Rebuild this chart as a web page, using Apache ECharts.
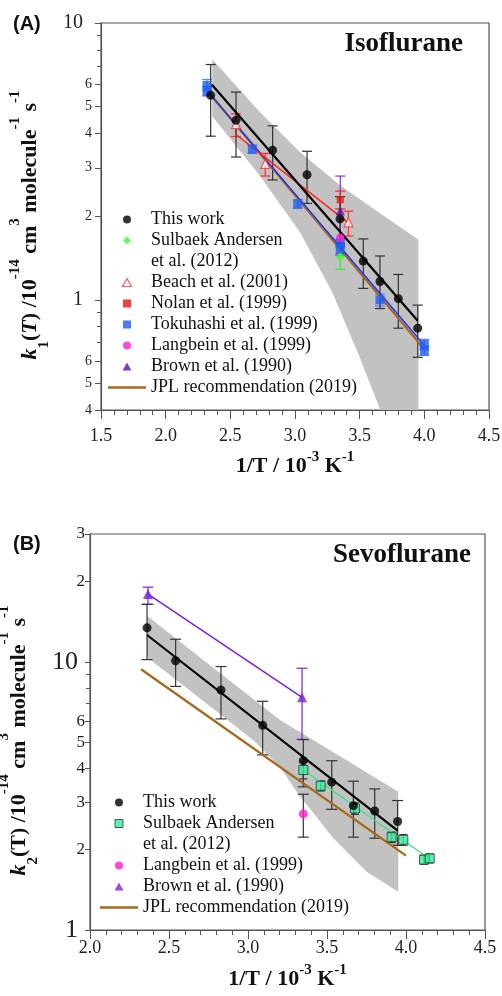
<!DOCTYPE html>
<html>
<head>
<meta charset="utf-8">
<script src="https://cdn.jsdelivr.net/npm/echarts@6/dist/echarts.min.js"></script>
<style>
html, body { margin: 0; padding: 0; background: #fff; }
#chart { width: 502px; height: 996px; }
</style>
</head>
<body>
<div id="chart"></div>
<script>
// ---------- panel A : isoflurane ----------
const isoThisX = [2.348, 2.544, 2.827, 3.093, 3.348, 3.528, 3.657, 3.799, 3.949];
const isoThisY = [5.48, 4.45, 3.47, 2.83, 1.96, 1.38, 1.165, 1.01, 0.79];
const isoThisLo = [3.90, 3.28, 2.71, 2.23, 1.60, 1.10, 0.93, 0.79, 0.62];
const isoThisHi = [7.08, 5.63, 4.25, 3.44, 2.36, 1.66, 1.44, 1.235, 0.957];
const isoThisFitX = [2.356, 3.949];
const isoThisFitY = [6.0, 0.84];

const isoSulbX = [3.35];
const isoSulbY = [1.43];
const isoSulbLo = [1.29];
const isoSulbHi = [1.56];

const isoBeachX = [2.544, 2.770, 3.413];
const isoBeachY = [4.31, 3.10, 1.905];
const isoBeachLo = [3.89, 2.80, 1.70];
const isoBeachHi = [4.70, 3.38, 2.09];
const isoBeachFitX = [2.536, 3.41];
const isoBeachFitY = [3.98, 1.90];

const isoNolanX = [3.35];
const isoNolanY = [2.30];
const isoNolanLo = [2.13];
const isoNolanHi = [2.47];

const isoTokuX = [2.32, 2.32, 2.670, 3.021, 3.35, 3.35, 3.657, 4.0, 4.0];
const isoTokuY = [5.95, 5.66, 3.50, 2.22, 1.60, 1.52, 1.0, 0.69, 0.655];
const isoTokuLo = [5.70, 5.45, 3.38, 2.14, 1.55, 1.47, 0.95, 0.66, 0.63];
const isoTokuHi = [6.25, 5.90, 3.62, 2.30, 1.66, 1.58, 1.05, 0.72, 0.68];
const isoTokuFitX = [2.325, 4.006];
const isoTokuFitY = [5.65, 0.68];

const isoLangX = [3.35];
const isoLangY = [1.68];

const isoBrownX = [3.35];
const isoBrownY = [2.10];
const isoBrownLo = [1.45];
const isoBrownHi = [2.80];

const isoJplX = [2.322, 3.992];
const isoJplY = [5.69, 0.67];

// confidence band outline: upper edge left->right, then lower edge right->left
const isoBandX = [2.36, 2.73, 3.04, 3.35, 3.66, 3.955, 3.955, 3.66, 3.50, 3.29, 3.04, 2.73, 2.36];
const isoBandY = [7.39, 4.76, 3.41, 2.59, 2.05, 1.65, 0.4, 0.4, 0.62, 1.06, 1.75, 2.8, 4.6];

const isoTickVals = [0.4, 0.5, 0.6, 1, 2, 3, 4, 5, 6, 10];
const isoTickText = ['4', '5', '6', '1', '2', '3', '4', '5', '6', '10'];
const isoMinorVals = [0.7, 0.8, 0.9, 7, 8, 9];

// ---------- panel B : sevoflurane ----------
const sevThisX = [2.361, 2.542, 2.829, 3.093, 3.350, 3.530, 3.667, 3.802, 3.947];
const sevThisY = [13.4, 10.1, 7.86, 5.80, 4.28, 3.56, 2.91, 2.78, 2.54];
const sevThisLo = [10.2, 8.1, 6.13, 4.50, 3.42, 2.82, 2.22, 2.20, 2.07];
const sevThisHi = [16.4, 12.15, 9.61, 7.13, 5.13, 4.28, 3.59, 3.36, 3.04];
const sevThisFitX = [2.361, 3.947];
const sevThisFitY = [12.6, 2.35];

const sevSulbX = [3.350, 3.460, 3.677, 3.909, 3.983, 4.114, 4.150];
const sevSulbY = [3.95, 3.45, 2.84, 2.22, 2.17, 1.83, 1.85];
const sevSulbLo = [3.66, 3.30, 2.70, 2.12, 2.07, 1.76, 1.78];
const sevSulbHi = [4.25, 3.60, 2.98, 2.32, 2.27, 1.90, 1.92];
const sevSulbFitX = [3.35, 4.15];
const sevSulbFitY = [3.95, 1.84];

const sevLangX = [3.35];
const sevLangY = [2.71];
const sevLangLo = [2.22];
const sevLangHi = [3.21];

const sevBrownX = [2.367, 3.342];
const sevBrownY = [17.9, 7.38];
const sevBrownLo = [16.4, 5.14];
const sevBrownHi = [19.0, 9.47];

const sevJplX = [2.323, 4.0];
const sevJplY = [9.39, 1.894];

const sevBandX = [2.361, 2.778, 3.203, 3.58, 3.951, 3.951, 3.751, 3.54, 3.41, 3.329, 3.203, 3.034, 2.778, 2.361];
const sevBandY = [14.85, 9.54, 6.07, 4.46, 3.28, 1.39, 1.65, 2.2, 2.75, 3.15, 4.05, 5.1, 6.7, 10.4];

const sevTickVals = [1, 2, 3, 4, 5, 6, 10, 20, 30];
const sevTickText = ['1', '2', '3', '4', '5', '6', '10', '2', '3'];
const sevMinorVals = [7, 8, 9];

const serif = '"Liberation Serif", "Times New Roman", serif';
const axisColor = '#555';
const errColor = '#333';

// legend icon shapes (kept square by symbolKeepAspect)
const iconSquare = 'path://M0,0H10V10H0Z';
const iconTriangle = 'path://M5,0L10,9L0,9Z';
const iconDiamond = 'path://M5,0L10,5L5,10L0,5Z';
const iconLine = 'path://M0,0H40V2.5H0Z';

function pairs(xs, ys) {
    return xs.map((x, i) => [x, ys[i]]);
}

// error bars drawn through the axes with api.coord
function errorBars(name, xs, lo, hi, color, g, cap) {
    return {
        name: name,
        type: 'custom',
        xAxisIndex: g,
        yAxisIndex: g * 2,
        data: xs.map((x, i) => [x, lo[i], hi[i]]),
        encode: { x: 0, y: [1, 2] },
        silent: true,
        z: 3,
        renderItem: (params, api) => {
            const a = api.coord([api.value(0), api.value(2)]);
            const b = api.coord([api.value(0), api.value(1)]);
            const st = { stroke: color, lineWidth: 1.2 };
            return {
                type: 'group',
                children: [
                    { type: 'line', shape: { x1: a[0], y1: a[1], x2: b[0], y2: b[1] }, style: st },
                    { type: 'line', shape: { x1: a[0] - cap, y1: a[1], x2: a[0] + cap, y2: a[1] }, style: st },
                    { type: 'line', shape: { x1: b[0] - cap, y1: b[1], x2: b[0] + cap, y2: b[1] }, style: st }
                ]
            };
        }
    };
}

function points(name, xs, ys, g, symbol, size, itemStyle, z) {
    return {
        name: name,
        type: 'scatter',
        xAxisIndex: g,
        yAxisIndex: g * 2,
        symbol: symbol,
        symbolSize: size,
        itemStyle: itemStyle,
        data: pairs(xs, ys),
        z: z || 5
    };
}

function fitLine(name, xs, ys, g, color, width, z) {
    return {
        name: name,
        type: 'line',
        xAxisIndex: g,
        yAxisIndex: g * 2,
        data: pairs(xs, ys),
        symbol: 'none',
        lineStyle: { color: color, width: width },
        itemStyle: { color: color },
        silent: true,
        z: z || 4
    };
}

function band(name, xs, ys, g) {
    return {
        name: name,
        type: 'custom',
        xAxisIndex: g,
        yAxisIndex: g * 2,
        data: pairs(xs, ys),
        encode: { x: 0, y: 1 },
        silent: true,
        z: 1,
        renderItem: (params, api) => {
            if (params.dataIndex !== 0) return null;
            const pts = xs.map((x, i) => api.coord([x, ys[i]]));
            return { type: 'polygon', shape: { points: pts }, style: { fill: '#c2c2c2' } };
        }
    };
}

function tickFormatter(vals, texts) {
    return function (v) {
        let k = 0;
        vals.forEach((t, i) => {
            if (Math.abs(Math.log10(t / v)) < Math.abs(Math.log10(vals[k] / v))) k = i;
        });
        const decade = Math.abs(Math.log10(vals[k]) % 1) < 1e-6;
        return '{' + (decade ? 'big' : 'sm') + '|' + texts[k] + '}';
    };
}

const supStyle = { fontFamily: serif, fontWeight: 'bold', fontSize: 15, lineHeight: 16, verticalAlign: 'top', color: '#111' };

function yName(sub, italicT) {
    const t = italicT ? '{i|T}' : '{b|T}';
    return '{i|k}{sub|' + sub + '}{b|(}' + t + '{b|) /10}{sup|-14}{b| cm}{sup|3}{b| molecule}{sup|-1}{b| s}{sup|-1}';
}
const yNameRich = {
    b: { fontFamily: serif, fontWeight: 'bold', fontSize: 22, lineHeight: 44, color: '#111' },
    i: { fontFamily: serif, fontWeight: 'bold', fontStyle: 'italic', fontSize: 22, lineHeight: 44, color: '#111' },
    sub: { fontFamily: serif, fontWeight: 'bold', fontSize: 15, lineHeight: 24, verticalAlign: 'bottom', color: '#111' },
    sup: supStyle
};
const xNameRich = {
    b: { fontFamily: serif, fontWeight: 'bold', fontSize: 22, lineHeight: 32, color: '#111' },
    sup: supStyle
};

function xAxis(g, min, labelMargin, nameGap) {
    return {
        type: 'value',
        gridIndex: g,
        min: min,
        max: 4.5,
        interval: 0.5,
        name: '{b|1/T / 10}{sup|-3}{b| K}{sup|-1}',
        nameLocation: 'middle',
        nameGap: nameGap,
        nameTextStyle: { rich: xNameRich },
        axisLine: { lineStyle: { color: axisColor, width: 1.2 } },
        axisTick: { length: 9, lineStyle: { color: axisColor } },
        minorTick: { show: true, splitNumber: 5, length: 5, lineStyle: { color: axisColor } },
        axisLabel: {
            margin: labelMargin,
            fontFamily: serif,
            fontSize: 18,
            color: '#222',
            formatter: v => v.toFixed(1)
        },
        splitLine: { show: false },
        minorSplitLine: { show: false }
    };
}

function yAxis(g, min, max, vals, texts, sub, italicT, opt) {
    return {
        type: 'log',
        logBase: 10,
        gridIndex: g,
        position: 'left',
        min: min,
        max: max,
        name: yName(sub, italicT),
        nameLocation: 'middle',
        nameRotate: 90,
        nameGap: opt.nameGap,
        nameTextStyle: { rich: yNameRich, padding: [0, 17, 0, 0] },
        axisLine: { show: true, lineStyle: { color: axisColor, width: 1.2 } },
        axisTick: { show: true, length: opt.tick, customValues: vals, lineStyle: { color: axisColor } },
        axisLabel: {
            customValues: vals,
            margin: opt.margin,
            formatter: tickFormatter(vals, texts),
            rich: {
                big: { fontFamily: serif, fontSize: opt.big, color: '#222', padding: [0, opt.bigPad, 0, 0] },
                sm: { fontFamily: serif, fontSize: opt.sm, color: '#222' }
            }
        },
        splitLine: { show: false }
    };
}

function minorAxis(g, min, max, vals) {
    return {
        type: 'log',
        logBase: 10,
        gridIndex: g,
        position: 'left',
        min: min,
        max: max,
        axisLine: { show: false },
        axisTick: { show: true, length: 4, customValues: vals, lineStyle: { color: axisColor } },
        axisLabel: { show: false },
        splitLine: { show: false }
    };
}

const legendText = { fontFamily: serif, fontSize: 18, color: '#111', lineHeight: 21 };

const blackDot = { color: '#000' };

const series = [
    // panel A
    band('isoBand', isoBandX, isoBandY, 0),
    fitLine('JPL recommendation (2019)', isoJplX, isoJplY, 0, '#a66a1c', 2.4, 4),
    fitLine('Tokuhashi fit', isoTokuFitX, isoTokuFitY, 0, '#1a2cff', 1.3, 4),
    fitLine('Beach fit', isoBeachFitX, isoBeachFitY, 0, '#ff2020', 1.5, 4),
    fitLine('This work fit', isoThisFitX, isoThisFitY, 0, '#000', 2.2, 4),
    errorBars('Tokuhashi err', isoTokuX, isoTokuLo, isoTokuHi, '#4d86ff', 0, 5),
    errorBars('Brown err', isoBrownX, isoBrownLo, isoBrownHi, '#8a2be2', 0, 5),
    errorBars('Nolan err', isoNolanX, isoNolanLo, isoNolanHi, '#ff2020', 0, 5),
    errorBars('Beach err', isoBeachX, isoBeachLo, isoBeachHi, '#ff3030', 0, 5),
    errorBars('Sulbaek err', isoSulbX, isoSulbLo, isoSulbHi, '#33ee33', 0, 5),
    errorBars('This work err', isoThisX, isoThisLo, isoThisHi, errColor, 0, 5),
    points('Tokuhashi et al. (1999)', isoTokuX, isoTokuY, 0, 'rect', 9, { color: '#1f5cf0' }, 5),
    points('Nolan et al. (1999)', isoNolanX, isoNolanY, 0, 'rect', 7, { color: '#ee1111' }, 5),
    points('Brown et al. (1990)', isoBrownX, isoBrownY, 0, 'triangle', 9, { color: '#5b0fa8' }, 5),
    points('Langbein et al. (1999)', isoLangX, isoLangY, 0, 'circle', 8, { color: '#ff1dce' }, 5),
    points('Sulbaek Andersen', isoSulbX, isoSulbY, 0, 'diamond', 9, { color: '#33ff33' }, 5),
    points('Beach et al. (2001)', isoBeachX, isoBeachY, 0, 'triangle', 9, { color: '#fff', borderColor: '#ff3030', borderWidth: 1.2 }, 6),
    points('This work', isoThisX, isoThisY, 0, 'circle', 9, blackDot, 7),

    // panel B
    band('sevBand', sevBandX, sevBandY, 1),
    fitLine('JPL B', sevJplX, sevJplY, 1, '#a66a1c', 2.4, 4),
    fitLine('Brown fit', sevBrownX, sevBrownY, 1, '#7b1fe0', 1.5, 4),
    fitLine('Sulbaek fit', sevSulbFitX, sevSulbFitY, 1, '#2ee88a', 1.3, 4),
    fitLine('This work fit B', sevThisFitX, sevThisFitY, 1, '#000', 2.2, 4),
    errorBars('Brown err B', sevBrownX, sevBrownLo, sevBrownHi, '#7b1fe0', 1, 5.5),
    errorBars('Langbein err B', sevLangX, sevLangLo, sevLangHi, errColor, 1, 5.5),
    errorBars('Sulbaek err B', sevSulbX, sevSulbLo, sevSulbHi, errColor, 1, 4),
    errorBars('This work err B', sevThisX, sevThisLo, sevThisHi, errColor, 1, 5.5),
    points('Brown et al. (1990) ', sevBrownX, sevBrownY, 1, 'triangle', 10, { color: '#7b1fe0' }, 5),
    points('Langbein et al. (1999)', sevLangX, sevLangY, 1, 'circle', 9, { color: '#ff1dce' }, 5),
    points('Sulbaek Andersen ', sevSulbX, sevSulbY, 1, 'rect', 9, { color: '#33f09a', borderColor: '#333', borderWidth: 1 }, 6),
    points('This work', sevThisX, sevThisY, 1, 'circle', 9, blackDot, 7),

    // second legend line of the two-line entry
    { name: 'et al. (2012)', type: 'line', xAxisIndex: 0, yAxisIndex: 0, data: [], symbol: 'none', lineStyle: { opacity: 0 } }
];

const legendBase = {
    orient: 'vertical', padding: 0,
    itemWidth: 38, itemHeight: 8, itemGap: 0,
    symbolKeepAspect: true,
    selectedMode: false, textStyle: legendText
};

const option = {
    animation: false,
    backgroundColor: '#fff',
    title: [
        { text: '(A)', left: 13, top: 14, padding: 0, textStyle: { fontFamily: '"Liberation Sans", Arial, sans-serif', fontWeight: 'bold', fontSize: 20, color: '#111' } },
        { text: 'Isoflurane', right: 39, top: 31, padding: 0, textStyle: { fontFamily: serif, fontWeight: 'bold', fontSize: 27, color: '#111' } },
        { text: '(B)', left: 13, top: 534, padding: 0, textStyle: { fontFamily: '"Liberation Sans", Arial, sans-serif', fontWeight: 'bold', fontSize: 20, color: '#111' } },
        { text: 'Sevoflurane', right: 31, top: 542, padding: 0, textStyle: { fontFamily: serif, fontWeight: 'bold', fontSize: 27, color: '#111' } }
    ],
    legend: [
        Object.assign({}, legendBase, {
            left: 108, top: 209,
            data: [
                'This work',
                { name: 'Sulbaek Andersen', icon: iconDiamond },
                { name: 'et al. (2012)', icon: 'none' },
                { name: 'Beach et al. (2001)', icon: iconTriangle, itemStyle: { borderWidth: 1.2 } },
                { name: 'Nolan et al. (1999)', icon: iconSquare },
                { name: 'Tokuhashi et al. (1999)', icon: iconSquare },
                'Langbein et al. (1999)',
                { name: 'Brown et al. (1990)', icon: iconTriangle },
                { name: 'JPL recommendation (2019)', icon: iconLine }
            ]
        }),
        Object.assign({}, legendBase, {
            left: 100, top: 792,
            data: [
                'This work',
                { name: 'Sulbaek Andersen ', icon: iconSquare, itemStyle: { borderWidth: 1 } },
                { name: 'et al. (2012)', icon: 'none' },
                'Langbein et al. (1999)',
                { name: 'Brown et al. (1990) ', icon: iconTriangle },
                { name: 'JPL recommendation (2019)', icon: iconLine }
            ]
        })
    ],
    grid: [
        { left: 101, top: 23, width: 388, height: 387, outerBoundsMode: 'none', show: true, borderColor: axisColor, borderWidth: 1.2 },
        { left: 90, top: 534, width: 395, height: 396, outerBoundsMode: 'none', show: true, borderColor: axisColor, borderWidth: 1.2 }
    ],
    xAxis: [
        xAxis(0, 1.5, 17, 40),
        xAxis(1, 2.0, 9, 33)
    ],
    yAxis: [
        yAxis(0, 0.4, 10, isoTickVals, isoTickText, '1', true, { nameGap: 48, tick: 6, margin: 9, big: 20, bigPad: 9, sm: 14 }),
        minorAxis(0, 0.4, 10, isoMinorVals),
        yAxis(1, 1, 30, sevTickVals, sevTickText, '2', false, { nameGap: 40, tick: 5, margin: 5, big: 26, bigPad: 7, sm: 17 }),
        minorAxis(1, 1, 30, sevMinorVals)
    ],
    series: series
};

const myChart = echarts.init(document.getElementById('chart'));
myChart.setOption(option);
</script>
</body>
</html>
